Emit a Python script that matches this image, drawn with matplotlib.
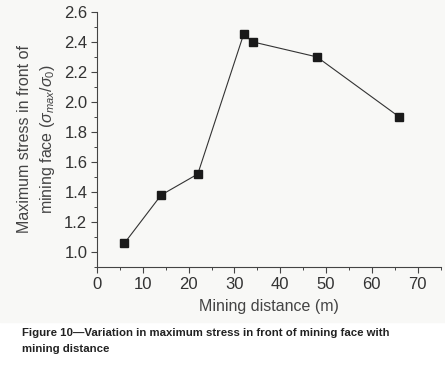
import matplotlib
matplotlib.use("Agg")
import matplotlib.pyplot as plt
from matplotlib.patches import Rectangle

# mining distance (m) and normalised max stress
dist = [6, 14, 22, 32, 34, 48, 66]
stress = [1.06, 1.38, 1.52, 2.45, 2.40, 2.30, 1.90]

plt.rcParams['font.family'] = ['Liberation Sans', 'DejaVu Sans']
plt.rcParams['mathtext.fontset'] = 'custom'
plt.rcParams['mathtext.it'] = 'Liberation Sans:italic'
plt.rcParams['mathtext.rm'] = 'Liberation Sans'

fig = plt.figure(figsize=(4.45, 3.71), dpi=100)
fig.patches.append(Rectangle((0, 1 - 322 / 371), 1, 322 / 371, transform=fig.transFigure,
                             color='#f8f8f6', zorder=-1))
ax = fig.add_axes([0.218, 0.280, 0.772, 0.688])
ax.set_facecolor('none')

ax.plot(dist, stress, color='#333333', lw=0.8, marker='s', ms=6,
        mfc='#1a1a1a', mec='#1a1a1a')

ax.set_xlim(0, 75)
ax.set_ylim(0.9, 2.6)
ax.set_xticks(range(0, 71, 10))
ax.set_xticks(range(0, 76, 5), minor=True)
ax.set_yticks([1.0 + 0.2 * i for i in range(9)])
ax.set_yticks([0.9 + 0.1 * i for i in range(18)], minor=True)
ax.set_yticklabels(['%.1f' % (1.0 + 0.2 * i) for i in range(9)])

for s in ['top', 'right']:
    ax.spines[s].set_visible(False)
for s in ['left', 'bottom']:
    ax.spines[s].set_color('#444444')
    ax.spines[s].set_linewidth(0.8)

ax.tick_params(which='major', direction='out', length=4, width=0.8, color='#444444',
               labelsize=12, labelcolor='#333333', pad=3)
ax.tick_params(which='minor', direction='out', length=2.5, width=0.7, color='#444444')

ax.set_xlabel('Mining distance (m)', fontsize=11.5, color='#444444', labelpad=5)
ax.set_ylabel('Maximum stress in front of\nmining face ($\\sigma_{max}/\\sigma_0$)',
              fontsize=11.5, color='#444444', labelpad=5, linespacing=1.4)

fig.text(0.05, 1 - 341 / 371, 'Figure 10\u2014Variation in maximum stress in front of mining face with\nmining distance',
         fontsize=8.2, fontweight='bold', color='#222222', va='center', linespacing=1.65,
         family=['Liberation Sans Narrow', 'Liberation Sans', 'DejaVu Sans'])

fig.savefig('out.png', dpi=100)
